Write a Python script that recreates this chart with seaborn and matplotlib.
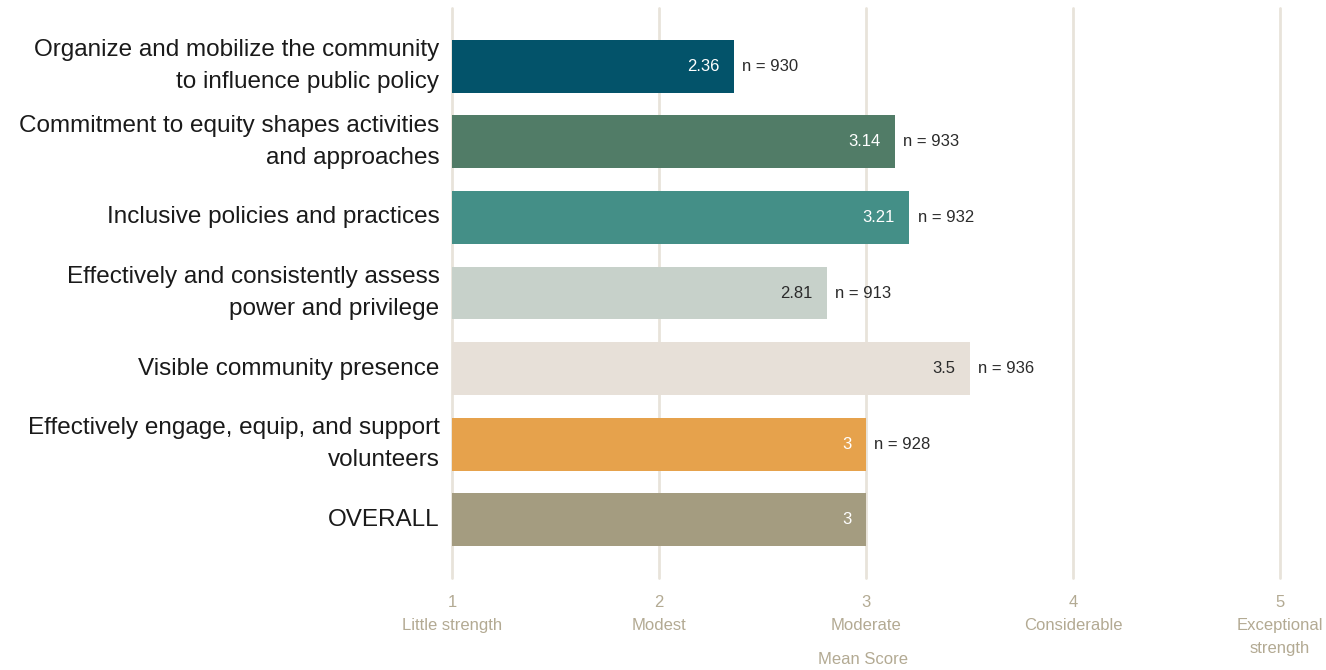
import matplotlib
matplotlib.use("Agg")
import matplotlib.pyplot as plt
import seaborn as sns
import pandas as pd

categories = [
    "Organize and mobilize the community\nto influence public policy",
    "Commitment to equity shapes activities\nand approaches",
    "Inclusive policies and practices",
    "Effectively and consistently assess\npower and privilege",
    "Visible community presence",
    "Effectively engage, equip, and support\nvolunteers",
    "OVERALL",
]
mean_scores = [2.36, 3.14, 3.21, 2.81, 3.5, 3.0, 3.0]
value_labels = ["2.36", "3.14", "3.21", "2.81", "3.5", "3", "3"]
n_labels = ["n = 930", "n = 933", "n = 932", "n = 913", "n = 936", "n = 928", ""]
bar_colors = ["#03536A", "#517C67", "#448F87", "#C7D1CA", "#E7E0D8", "#E6A24C", "#A49C80"]
value_text_colors = ["white", "white", "white", "#2b2b2b", "#2b2b2b", "white", "white"]
tick_values = [1, 2, 3, 4, 5]
tick_labels = ["1\nLittle strength", "2\nModest", "3\nModerate", "4\nConsiderable", "5\nExceptional\nstrength"]

df = pd.DataFrame({"category": categories, "score": mean_scores})

sns.set_theme(style="white")
plt.rcParams["font.family"] = ["Liberation Sans", "DejaVu Sans"]

fig = plt.figure(figsize=(13.26, 6.70), dpi=100)
ax = fig.add_axes([452 / 1326, 92 / 670, (1280 - 452) / 1326, (670 - 8 - 92) / 670])

# Bars start at the scale minimum of 1
df["offset"] = df["score"] - 1
sns.barplot(data=df, x="offset", y="category", hue="category", palette=bar_colors,
            legend=False, width=0.7, ax=ax, left=1, saturation=1, linewidth=0)

ax.set_xlim(1, 5)
ax.set_ylim(6.77, -0.77)

for x in tick_values:
    ax.axvline(x, color="#E8E3DA", lw=2, zorder=0, clip_on=False)

for i, (v, lab, nl, tc) in enumerate(zip(mean_scores, value_labels, n_labels, value_text_colors)):
    ax.text(v - 0.07, i, lab, ha="right", va="center", fontsize=12, color=tc)
    if nl:
        ax.text(v + 0.04, i, nl, ha="left", va="center", fontsize=12, color="#2b2b2b")

ax.set_xticks(tick_values)
ax.set_xticklabels(tick_labels, color="#B3AA93", fontsize=12, linespacing=1.7)
ax.tick_params(axis="x", length=0, pad=12)
ax.set_yticks(range(len(categories)))
ax.set_yticklabels(categories, fontsize=17.5, color="#1a1a1a", linespacing=1.6, va="center")
ax.tick_params(axis="y", length=0, pad=9)
ax.set_xlabel("")
ax.set_ylabel("")
fig.text(863 / 1326, 1 - 659 / 670, "Mean Score", ha="center", va="center",
         color="#B3AA93", fontsize=12)
for s in ax.spines.values():
    s.set_visible(False)

fig.savefig("out.png", dpi=100)
